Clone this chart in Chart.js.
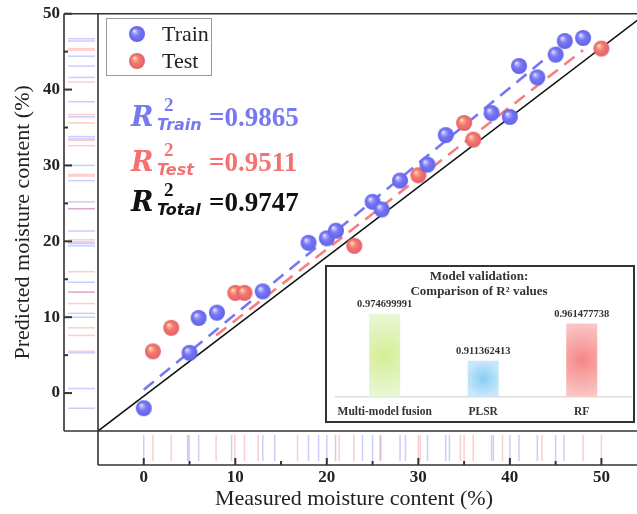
<!DOCTYPE html>
<html>
<head>
<meta charset="utf-8">
<script src="https://cdn.jsdelivr.net/npm/chart.js@4.4.0/dist/chart.umd.min.js"></script>
<style>
  html, body { margin: 0; padding: 0; background: #fff; overflow: hidden; }
  #wrap { position: relative; width: 637px; height: 514px; overflow: hidden; }
  #main { position: absolute; left: 0; top: 0; }
  #inset { position: absolute; left: 325px; top: 265px; width: 310px; height: 158px;
           box-sizing: border-box; border: 2px solid #333; background: #fff; }
  #bars { display: block; }
</style>
</head>
<body>
<div id="wrap">
  <canvas id="main" width="640" height="514"></canvas>
  <div id="inset"><canvas id="bars" width="306" height="154"></canvas></div>
</div>
<script>
// measured vs predicted moisture (%)
const trainX = [0, 5, 6, 8, 13, 18, 20, 21, 25, 26, 28, 31, 33, 38, 40, 41, 43, 45, 46, 48];
const trainY = [-2.0, 5.3, 9.9, 10.6, 13.4, 19.8, 20.4, 21.4, 25.2, 24.2, 28.0, 30.1, 34.0, 36.9, 36.4, 43.1, 41.6, 44.6, 46.4, 46.8];
const testX = [1, 3, 10, 11, 23, 30, 35, 36, 50];
const testY = [5.5, 8.6, 13.2, 13.2, 19.4, 28.7, 35.6, 33.4, 45.4];

// fitted lines and reference line (end points)
const trainFitX = [0, 46];
const trainFitY = [0.45, 46.2];
const testFitX = [7.9, 48];
const testFitY = [7.6, 45.2];
const refX = [-5, 54];
const refY = [-5, 49.2];

// marginal rug marks
const rugXTrain = [0, 4.8, 4.95, 6.0, 9.6, 13.0, 14.3, 18.0, 19.1, 20.0, 20.95, 23.9, 25.0, 25.9, 28.0, 28.6, 31.0, 33.0, 33.4, 38.0, 38.2, 40.0, 41.0, 43.0, 45.0, 45.9];
const rugXTest = [1.0, 3.0, 7.9, 9.95, 11.0, 12.5, 16.8, 21.35, 22.95, 25.8, 30.0, 30.2, 34.6, 35.0, 36.0, 39.2, 43.5, 48.0, 50.0];
const rugYTrain = [46.7, 46.4, 44.4, 43.1, 41.6, 38.4, 36.4, 33.8, 33.5, 30.0, 28.0, 25.2, 24.3, 21.35, 19.9, 19.7, 19.4, 14.6, 13.3, 10.5, 10.0, 5.3, 0.6, -2.0];
const rugYTest = [45.4, 45.2, 41.0, 36.7, 35.6, 33.3, 32.6, 28.8, 28.6, 24.3, 20.2, 16.0, 13.3, 11.8, 8.6, 7.6, 5.5];

// ticks
const xTicks = [0, 10, 20, 30, 40, 50];
const yTicks = [0, 10, 20, 30, 40, 50];
const xMinor = [5, 15, 25, 35, 45];
const yMinor = [5, 15, 25, 35, 45];

// inset: R2 comparison
const modelNames = ['Multi-model fusion', 'PLSR', 'RF'];
const modelR2 = [0.974699991, 0.911362413, 0.961477738];
const barCore = ['rgb(212,238,150)', 'rgb(135,205,245)', 'rgb(245,135,135)'];
const barEdge = ['rgb(234,247,212)', 'rgb(200,232,250)', 'rgb(250,198,198)'];

const SERIF = '"Liberation Serif", "Times New Roman", serif';
const BLUE = 'rgb(120,120,242)';
const RED = 'rgb(245,112,112)';

const zip = (xs, ys) => xs.map((x, i) => ({x, y: ys[i]}));

function ball(r, g, b, rad){
  const c = document.createElement('canvas');
  const s = rad * 2 + 2;
  c.width = c.height = s;
  const x = c.getContext('2d');
  const m = s / 2;
  const gr = x.createRadialGradient(m - rad*0.35, m - rad*0.4, 0, m, m, rad);
  gr.addColorStop(0, '#ffffff');
  gr.addColorStop(0.2, `rgb(${Math.min(255,r+60)},${Math.min(255,g+60)},${Math.min(255,b+10)})`);
  gr.addColorStop(0.5, `rgb(${r},${g},${b})`);
  gr.addColorStop(1, `rgb(${r-20},${g-20},${b-15})`);
  x.fillStyle = gr;
  x.beginPath(); x.arc(m, m, rad, 0, Math.PI*2); x.fill();
  return c;
}
const blueBall = ball(118, 118, 245, 8);
const redBall = ball(245, 118, 118, 8);

function line(ctx, x1, y1, x2, y2){
  ctx.beginPath(); ctx.moveTo(x1, y1); ctx.lineTo(x2, y2); ctx.stroke();
}

function drawR2(ctx, y, sub, val, color){
  ctx.fillStyle = color;
  ctx.textAlign = 'left';
  ctx.textBaseline = 'alphabetic';
  ctx.font = 'italic bold 27px "DejaVu Serif"';
  ctx.fillText('R', 131, y);
  ctx.font = 'bold 19px ' + SERIF;
  ctx.fillText('2', 164, y - 15);
  ctx.font = 'italic bold 16px "DejaVu Sans"';
  ctx.fillText(sub, 157, y + 4);
  ctx.font = 'bold 27px ' + SERIF;
  ctx.fillText(val, 209, y);
}

const framePlugin = {
  id: 'framePlugin',
  afterDraw(chart){
    const ctx = chart.ctx, ca = chart.chartArea;
    const xs = chart.scales.x, ys = chart.scales.y;
    const stripL = ca.left - 34, stripB = ca.bottom + 34;
    ctx.save();

    // rugs
    ctx.lineWidth = 1.5;
    ctx.strokeStyle = 'rgba(110,110,250,0.35)';
    rugYTrain.forEach(v => { const p = ys.getPixelForValue(v); line(ctx, stripL + 4, p, ca.left - 3, p); });
    rugXTrain.forEach(v => { const p = xs.getPixelForValue(v); line(ctx, p, ca.bottom + 4, p, stripB - 4); });
    ctx.strokeStyle = 'rgba(250,110,110,0.35)';
    rugYTest.forEach(v => { const p = ys.getPixelForValue(v); line(ctx, stripL + 4, p, ca.left - 3, p); });
    rugXTest.forEach(v => { const p = xs.getPixelForValue(v); line(ctx, p, ca.bottom + 4, p, stripB - 4); });

    // frame
    ctx.strokeStyle = '#333';
    ctx.lineWidth = 1.6;
    line(ctx, stripL, ca.top, chart.width, ca.top);
    line(ctx, stripL, ca.top, stripL, ca.bottom);
    line(ctx, stripL, ca.bottom, chart.width, ca.bottom);
    line(ctx, ca.left, ca.top, ca.left, stripB);
    line(ctx, ca.left, stripB, chart.width, stripB);

    // ticks
    ctx.lineWidth = 2;
    yTicks.forEach(v => { const p = ys.getPixelForValue(v); line(ctx, stripL, p, stripL + 8, p); });
    yMinor.forEach(v => { const p = ys.getPixelForValue(v); line(ctx, stripL, p, stripL + 4, p); });
    xTicks.forEach(v => { const p = xs.getPixelForValue(v); line(ctx, p, stripB, p, stripB - 7); });
    xMinor.forEach(v => { const p = xs.getPixelForValue(v); line(ctx, p, stripB, p, stripB - 4); });

    // x title
    ctx.fillStyle = '#222';
    ctx.font = '22px ' + SERIF;
    ctx.textAlign = 'center';
    ctx.textBaseline = 'alphabetic';
    ctx.fillText('Measured moisture content (%)', 354, 505);

    // legend
    ctx.strokeStyle = '#9a9a9a';
    ctx.lineWidth = 1;
    ctx.fillStyle = '#fff';
    ctx.fillRect(106.5, 18.5, 105, 57);
    ctx.strokeRect(106.5, 18.5, 105, 57);
    ctx.drawImage(blueBall, 137 - blueBall.width/2, 34 - blueBall.height/2);
    ctx.drawImage(redBall, 137 - redBall.width/2, 61 - redBall.height/2);
    ctx.fillStyle = '#222';
    ctx.font = '22px ' + SERIF;
    ctx.textAlign = 'left';
    ctx.textBaseline = 'middle';
    ctx.fillText('Train', 162, 35);
    ctx.fillText('Test', 162, 62);

    // R2 annotations
    drawR2(ctx, 126, 'Train', '=0.9865', BLUE);
    drawR2(ctx, 171, 'Test', '=0.9511', RED);
    drawR2(ctx, 211, 'Total', '=0.9747', '#111');
    ctx.restore();
  }
};

new Chart(document.getElementById('main'), {
  type: 'scatter',
  data: {
    datasets: [
      { label: 'Train', data: zip(trainX, trainY), pointStyle: blueBall, pointRadius: 8, order: 1 },
      { label: 'Test', data: zip(testX, testY), pointStyle: redBall, pointRadius: 8, order: 2 },
      { data: zip(trainFitX, trainFitY), showLine: true, pointRadius: 0, borderColor: 'rgba(112,112,245,0.95)',
        borderWidth: 2.6, borderDash: [13, 8], order: 3 },
      { data: zip(testFitX, testFitY), showLine: true, pointRadius: 0, borderColor: 'rgba(245,120,120,0.95)',
        borderWidth: 2.6, borderDash: [13, 8], order: 4 },
      { data: zip(refX, refY), showLine: true, pointRadius: 0, borderColor: '#111', borderWidth: 1.6, order: 5 }
    ]
  },
  options: {
    responsive: false,
    animation: false,
    layout: { autoPadding: false, padding: { top: 13.7, right: 2, left: 0, bottom: 0 } },
    plugins: { legend: { display: false }, tooltip: { enabled: false } },
    scales: {
      x: {
        min: -5, max: 54,
        grid: { display: false, drawTicks: false },
        border: { display: false },
        ticks: { font: { family: SERIF, size: 17, weight: 'bold' }, color: '#222', padding: 36, maxRotation: 0 },
        afterBuildTicks: s => { s.ticks = xTicks.map(v => ({value: v})); },
        afterFit: s => { s.height = 83; s.paddingLeft = 0; s.paddingRight = 0; }
      },
      y: {
        min: -5, max: 50,
        grid: { display: false, drawTicks: false },
        border: { display: false },
        ticks: { font: { family: SERIF, size: 17, weight: 'bold' }, color: '#222', padding: 38 },
        afterBuildTicks: s => { s.ticks = yTicks.map(v => ({value: v})); },
        afterFit: s => { s.width = 98; s.paddingTop = 0; s.paddingBottom = 0; },
        title: { display: true, text: 'Predicted moisture content (%)', color: '#222',
                 font: { family: SERIF, size: 22 }, padding: { top: 10, bottom: 0 } }
      }
    }
  },
  plugins: [framePlugin]
});

// inset bar chart
function barFill(c){
  const chart = c.chart, i = c.dataIndex;
  if (!chart.chartArea) return barEdge[i];
  const xs = chart.scales.x, ys = chart.scales.y;
  const cx = xs.getPixelForValue(i);
  const top = ys.getPixelForValue(c.raw), bot = ys.getPixelForValue(ys.min);
  const cy = (top + bot) / 2;
  const g = chart.ctx.createRadialGradient(cx, cy, 0, cx, cy, Math.max(18, (bot - top) / 2));
  g.addColorStop(0, barCore[i]);
  g.addColorStop(1, barEdge[i]);
  return g;
}

const insetText = {
  id: 'insetText',
  afterDraw(chart){
    const ctx = chart.ctx;
    ctx.save();
    ctx.fillStyle = '#333';
    ctx.textAlign = 'center';
    ctx.textBaseline = 'middle';
    ctx.font = 'bold 13px ' + SERIF;
    ctx.fillText('Model validation:', 152, 10);
    ctx.fillText('Comparison of R\u00b2 values', 152, 25);
    ctx.font = 'bold 10.5px ' + SERIF;
    chart.getDatasetMeta(0).data.forEach((bar, i) => {
      ctx.fillText(String(modelR2[i]), bar.x, bar.y - 9);
    });
    ctx.restore();
  }
};

new Chart(document.getElementById('bars'), {
  type: 'bar',
  data: {
    labels: modelNames,
    datasets: [{ data: modelR2, backgroundColor: barFill, borderWidth: 0,
                 barPercentage: 0.315, categoryPercentage: 1 }]
  },
  options: {
    responsive: false,
    animation: false,
    layout: { padding: { top: 28, left: 8.4, right: 2, bottom: 0 } },
    plugins: { legend: { display: false }, tooltip: { enabled: false } },
    scales: {
      x: {
        grid: { display: false, drawTicks: false },
        border: { color: '#dcdcdc', width: 1.5 },
        ticks: { font: { family: SERIF, size: 11.5, weight: 'bold' }, color: '#333', padding: 8,
                 maxRotation: 0, minRotation: 0, autoSkip: false },
        afterFit: s => { s.height = 24.3; s.paddingLeft = 0; s.paddingRight = 0; }
      },
      y: { display: false, min: 0.8627, max: 1.0 }
    }
  },
  plugins: [insetText]
});
</script>
</body>
</html>
